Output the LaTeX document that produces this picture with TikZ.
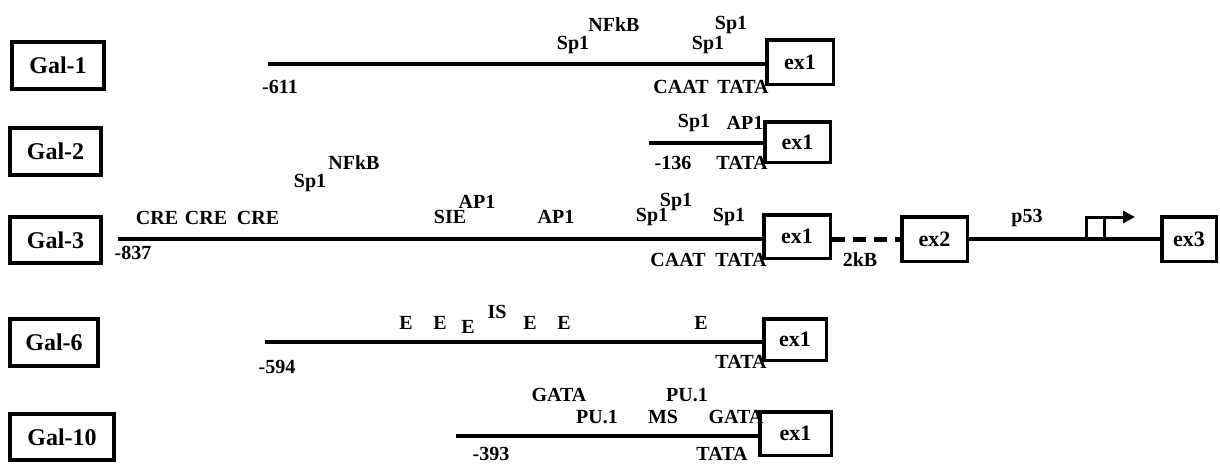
\documentclass[tikz,border=0pt]{standalone}
\usepackage{fontspec}
\setmainfont{Liberation Serif}
\usetikzlibrary{arrows.meta}
\begin{document}
\begin{tikzpicture}[x=1pt,y=-1pt,
  gal/.style={draw, line width=4pt, inner sep=0pt, font=\fontsize{24}{24}\selectfont\bfseries},
  exon/.style={draw, line width=3.5pt, inner sep=0pt, font=\fontsize{22}{22}\selectfont\bfseries},
  site/.style={inner sep=0pt, font=\fontsize{20}{20}\selectfont\bfseries},
  dna/.style={line width=3.5pt},
  intron/.style={line width=5pt, dash pattern=on 13pt off 8pt},
  tss/.style={line width=3pt},
]
\useasboundingbox (0,0) rectangle (1220,464);

% gene names
\node[gal, minimum width=92pt, minimum height=47pt] (g1)  at (58,65.5)  {Gal-1};
\node[gal, minimum width=91pt, minimum height=47pt] (g2)  at (55.5,151.5) {Gal-2};
\node[gal, minimum width=91pt, minimum height=46pt] (g3)  at (55.5,240) {Gal-3};
\node[gal, minimum width=88pt, minimum height=47pt] (g6)  at (54,342.5) {Gal-6};
\node[gal, minimum width=104pt, minimum height=46pt] (g10) at (62,437)  {Gal-10};

% exons
\node[exon, minimum width=66.5pt, minimum height=44.5pt] (e1)  at (800,62)    {ex1};
\node[exon, minimum width=65.5pt, minimum height=40.5pt] (e2)  at (797.5,142) {ex1};
\node[exon, minimum width=66.5pt, minimum height=43.5pt] (e3)  at (797,236.5) {ex1};
\node[exon, minimum width=65.5pt, minimum height=44.5pt] (x2)  at (934.5,239) {ex2};
\node[exon, minimum width=54.5pt, minimum height=44.5pt] (x3)  at (1189,239)  {ex3};
\node[exon, minimum width=62.5pt, minimum height=41.5pt] (e6)  at (795,339.5) {ex1};
\node[exon, minimum width=71.5pt, minimum height=43.5pt] (e10) at (795.5,433.5) {ex1};

% promoter lines
\coordinate (s1)  at (268,64);
\coordinate (s2)  at (649,143);
\coordinate (s3)  at (118,239);
\coordinate (s6)  at (265,342);
\coordinate (s10) at (456,436);
\draw[dna] (s1)  -- (s1 -| e1.west);
\draw[dna] (s2)  -- (s2 -| e2.west);
\draw[dna] (s3)  -- (s3 -| e3.west);
\draw[dna] (s6)  -- (s6 -| e6.west);
\draw[dna] (s10) -- (s10 -| e10.west);

% Gal-3 downstream structure
\draw[intron] (e3.east |- x2.west) -- (x2.west);
\draw[dna] (x2.east) -- (x3.west);
\coordinate (p0) at (1086,239);
\coordinate (p1) at (1086,217);
\coordinate (pt) at (1135,217);
\coordinate (q0) at (1104,217);
\coordinate (q1) at (1104,239);
\draw[tss, -{Triangle[length=12pt,width=12pt]}] (p0) -- (p1) -- (pt);
\draw[tss] (q0) -- (q1);

% Gal-1 sites
\node[site] (a1) at (614,25) {NFkB};
\node[site] (a2) at (573,45) {Sp1};
\node[site] (a3) at (731,25) {Sp1};
\node[site] (a4) at (708,45) {Sp1};
\node[site] (a5) at (280,87) {-611};
\node[site] (a6) at (681,87) {CAAT};
\node[site] (a7) at (743,87) {TATA};

% Gal-2 sites
\node[site] (b1) at (694,123) {Sp1};
\node[site] (b2) at (745,123) {AP1};
\node[site] (b3) at (673,163) {-136};
\node[site] (b4) at (742,163) {TATA};

% Gal-3 sites
\node[site] (c1)  at (157,218) {CRE};
\node[site] (c2)  at (206,218) {CRE};
\node[site] (c3)  at (258,218) {CRE};
\node[site] (c4)  at (354,163) {NFkB};
\node[site] (c5)  at (310,183) {Sp1};
\node[site] (c6)  at (450,217) {SIE};
\node[site] (c7)  at (477,202) {AP1};
\node[site] (c8)  at (556,217) {AP1};
\node[site] (c9)  at (652,217) {Sp1};
\node[site] (c10) at (676,202) {Sp1};
\node[site] (c11) at (729,217) {Sp1};
\node[site] (c12) at (678,260) {CAAT};
\node[site] (c13) at (741,260) {TATA};
\node[site] (c14) at (133,253) {-837};
\node[site] (c15) at (860,260) {2kB};
\node[site] (c16) at (1027,218) {p53};

% Gal-6 sites
\node[site] (d1) at (406,323) {E};
\node[site] (d2) at (440,323) {E};
\node[site] (d3) at (468,327) {E};
\node[site] (d4) at (497,312) {IS};
\node[site] (d5) at (530,323) {E};
\node[site] (d6) at (564,323) {E};
\node[site] (d7) at (701,323) {E};
\node[site] (d8) at (277,367) {-594};
\node[site] (d9) at (741,362) {TATA};

% Gal-10 sites
\node[site] (f1) at (559,395) {GATA};
\node[site] (f2) at (597,417) {PU.1};
\node[site] (f3) at (663,417) {MS};
\node[site] (f4) at (687,395) {PU.1};
\node[site] (f5) at (736,417) {GATA};
\node[site] (f6) at (491,454) {-393};
\node[site] (f7) at (722,454) {TATA};
\end{tikzpicture}
\end{document}
